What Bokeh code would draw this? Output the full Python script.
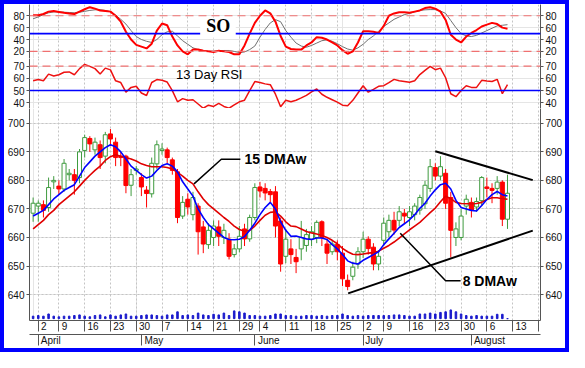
from bokeh.plotting import figure
from bokeh.layouts import column
from bokeh.models import (Range1d, FixedTicker, LinearAxis, Span, Label, BoxAnnotation,
                          ColumnDataSource, Grid)
from bokeh.embed import file_html
from bokeh.resources import INLINE

# ---------------- data (trading-day index 0 = Mar 30) ----------------
open_ = [668.5, 671, 671.5, 670.5, 679.5, 678, 677, 682, 682, 681,
         690.5, 694.7, 690.7, 692.5, 688.5, 696.3, 693.4, 688.5, 688.5, 678.3,
         683.5, 681, 676.6, 675.3, 685.8, 690.5, 690.7, 687.2, 683, 667.5,
         673.4, 668, 671, 663.7, 657.5, 660, 663.7, 660, 659.4, 654,
         656, 663, 659.5, 667, 677.7, 677.2, 676.1, 676, 665.8, 653.4,
         656, 653, 656, 657.2, 659.4, 660, 665.5, 657.7, 655, 657.5,
         654.5, 645, 646.4, 650.7, 655, 659.4, 656.6, 650.7, 659, 662,
         666, 666, 668.5, 667, 668, 669.6, 671.8, 677.2, 684.5, 681.5,
         682.5, 674, 660, 660, 671, 672.3, 670.7, 672.9, 677.7, 677.2,
         677.2, 679.4, 666.4]
high = [674, 673, 673, 681, 681.5, 680, 687.5, 684, 684, 691,
        696, 695.5, 695, 694, 697, 698, 695, 690, 689, 684,
        685, 682.5, 678, 688, 694, 693, 691.5, 688, 684, 674.5,
        675.5, 676, 672, 665.8, 665, 666, 666, 664.8, 661.5, 657.7,
        664, 664.8, 668, 679, 679.5, 679, 677, 678, 667, 663,
        659.4, 656, 665.8, 663, 664, 666, 666, 659.4, 659, 659,
        657, 647, 651.5, 656.6, 662, 660.4, 658, 655.6, 667, 668,
        669, 671, 670, 671, 672, 675, 679.9, 687.5, 686, 688.5,
        684, 676, 665.3, 670, 675, 674, 674, 681.5, 681, 679,
        681.5, 680, 682]
low = [665.5, 665.5, 667, 669, 677, 675, 676, 680, 675, 679,
       688, 690, 689, 684, 686, 692, 685, 685, 675.5, 674.5,
       682, 674.5, 670.5, 674, 684, 689, 686, 682, 665, 666.5,
       668, 666, 654, 654.5, 656, 657, 657, 657.7, 652.3, 653,
       654.8, 657, 658.5, 666, 674, 673, 672, 660, 648, 651,
       650.7, 647.5, 652, 655, 657, 658, 657, 650.7, 653.9, 652,
       643, 641.5, 645, 649, 652.8, 654, 648.5, 648.5, 657, 660,
       661, 664, 665, 664, 666, 668, 670, 676, 680, 680,
       670, 653, 657, 659, 668, 667, 669, 671, 674, 672,
       675, 664, 663]
close = [672, 672, 669.5, 677.5, 680, 677, 686, 682.5, 680, 690,
         695, 692.8, 693.4, 688, 696, 694.5, 688, 688, 678.2, 682,
         684, 677.7, 675.4, 686, 692.5, 691, 688, 683.5, 667, 672.3,
         670.7, 674, 662, 657.7, 662.5, 664, 660.4, 662.5, 653.4, 656,
         660.4, 659.5, 667, 677.5, 676.3, 675.6, 675, 664, 650.7, 659.4,
         654, 651.5, 660, 661, 662, 665.3, 660, 654.5, 657.7, 655,
         645.5, 642.8, 649.6, 655, 659.4, 656.1, 650.7, 653.4, 665, 666,
         662.6, 669, 667.5, 669, 671, 674, 678.3, 684.8, 681.5, 684.8,
         672, 662.5, 663, 667.5, 673.4, 669.6, 672.6, 681, 677.2, 676.5,
         679.4, 666.4, 675.5]
volume = [8, 10, 8, 15, 8, 6, 8, 8, 10, 12,
          8, 6, 10, 12, 6, 12, 8, 12, 15, 8,
          8, 10, 12, 12, 10, 8, 12, 12, 22, 10,
          12, 10, 18, 12, 10, 14, 12, 18, 10, 25,
          22, 18, 10, 10, 8, 8, 10, 15, 15, 10,
          10, 8, 8, 10, 10, 8, 10, 8, 10, 10,
          15, 10, 8, 10, 8, 10, 10, 10, 10, 10,
          12, 12, 10, 8, 8, 15, 15, 18, 15, 20,
          22, 28, 22, 15, 10, 8, 10, 8, 8, 8,
          14, 14, 0]
wma8 = [667.5, 668.5, 669.5, 671.5, 673.5, 675, 676.5, 677.5, 678.5, 681.5,
        684.5, 686.5, 688.5, 690, 691.5, 692.5, 691.8, 690, 687.5, 685,
        683.5, 682, 680.8, 681.5, 683.5, 685.2, 685.8, 685, 683, 679.5,
        677, 674.5, 670, 667, 664.5, 663, 661.5, 660, 659.3, 659.2,
        659.4, 660.3, 662.5, 665, 668, 670.5, 672.3, 670, 665.5, 662.5,
        660.4, 660.5, 660, 659.5, 659.3, 659.8, 659.8, 659.3, 657.5, 656,
        654, 651.8, 651, 650.7, 652, 653, 654, 655, 657.5, 659.5,
        661.5, 663.5, 664.8, 666.2, 668, 670.2, 672, 674.5, 676.7, 678.5,
        679, 677, 673, 670.5, 670, 669.5, 669.3, 671.2, 673.3, 675,
        676.1, 675, 674.5]
wma15 = [663, 664.5, 666, 668, 669.5, 671.5, 673, 674.5, 676, 678,
         680, 681.8, 683.5, 685, 687, 688.3, 689, 688.5, 688, 687.5,
         686.8, 685.8, 685.2, 684.8, 684.8, 684.8, 684.5, 684, 682.8, 681.5,
         680, 678.8, 676, 673.5, 671.5, 670, 668.5, 667, 665.6, 664,
         662.8, 662.2, 662.5, 664, 666, 667.8, 668.8, 669, 667.5, 665.5,
         664, 663.8, 663, 662.1, 661.6, 661.2, 660.7, 660, 659, 657.8,
         656.2, 655, 654.1, 654, 654.2, 654.5, 654.7, 655.2, 656.2, 657.2,
         658.4, 659.8, 661.3, 662.7, 664, 665.3, 667, 668.7, 670.3, 672.5,
         674.5, 673.6, 672.3, 671.9, 671.8, 671.8, 671.9, 672.3, 673.3, 673.9,
         673.9, 673.6, 673.4]
so_k = [81, 81, 83, 87, 88, 86.5, 85, 84, 83, 87,
        91, 94.5, 92, 89, 88, 87, 80, 70, 53, 40,
        31, 28, 25, 33, 55, 67, 64, 45, 30, 20,
        15, 23, 23, 21, 20, 19, 21, 20, 19, 15,
        15, 30, 50, 68, 80, 89, 84, 70, 46, 28,
        24, 23, 23, 30, 35, 44, 43, 40, 35, 30,
        22, 16, 20, 35, 54, 54, 53, 51, 63, 80,
        84, 86, 86, 85, 87, 89, 93, 94.5, 92, 87,
        73, 48, 40, 35, 45, 51, 56, 62, 65, 68,
        66, 60, 58]
so_d = [75, 78, 82, 85, 86.5, 86.5, 86, 85.5, 85, 86,
        87.5, 89, 90, 90.4, 89, 87, 81, 74, 66, 55,
        45, 40, 37, 35, 40, 48, 53, 54, 46, 38,
        32, 26, 23, 21.5, 20.5, 20.5, 21, 21.5, 21.5, 20,
        18, 19, 23, 29, 44, 57, 68, 73.5, 70, 55,
        44, 34, 29, 27, 30, 34, 38, 39.5, 37, 33,
        28, 24, 22, 26, 32, 40, 46, 54, 62, 68,
        74, 78, 82, 84, 86.5, 89, 90, 90.4, 90.4, 88,
        84, 72, 60, 50, 46, 45, 47, 51, 55, 59,
        63, 64, 65]
rsi13 = [58, 59, 58, 63.5, 62, 63, 65, 65.3, 63, 68,
         71.5, 69.8, 68, 63.5, 68.4, 67, 58, 56.6, 48.7, 52.6,
         53.5, 48, 46, 56.6, 59, 58.5, 57, 50, 40.8, 43.4,
         42, 42.5, 39, 35.5, 38, 37, 39.5, 37, 35.5, 38.2,
         40.8, 42.1, 50, 57.4, 56.6, 55.5, 54.8, 47, 36.8, 42.1,
         40.8, 42.1, 44, 46.1, 49, 51.3, 47, 44.5, 42.5, 40.5,
         38, 37.5, 42, 48, 54, 48.7, 51, 53.5, 54, 56.5,
         59.2, 58, 57.4, 56.8, 58, 63.1, 66.5, 69.8, 67.1, 68.4,
         60.5, 47.4, 45, 50, 54, 52.6, 52.6, 58.4, 57.8, 57.4,
         59.2, 47.4, 54.8]
day_index = list(range(len(close)))

week_ticks = [1, 5, 10, 15, 20, 25, 30, 35, 40, 44, 49, 54, 59, 64, 68, 73, 78, 83, 88, 93, 98]
week_labels = ["2", "9", "16", "23", "30", "7", "14", "21", "29", "4", "11", "18", "25",
               "2", "9", "16", "23", "30", "6", "13", ""]
month_ticks = [1, 21, 43, 64, 85]
month_labels = ["April", "May", "June", "July", "August"]

so_ticks = [20, 40, 60, 80]
rsi_ticks = [40, 50, 60, 70]
price_ticks = [640, 650, 660, 670, 680, 690, 700]

# annotation geometry (hand-drawn lines in the original)
upper_trend = ([78.0, 96.9], [690.2, 680.1])
lower_trend = ([61.1, 96.9], [640.4, 662.4])
lead15 = ([31.2, 36.5, 40.2], [678.8, 687.4, 687.4])
lead8 = ([71.2, 80.0, 82.9], [661.5, 644.8, 644.8])

# ---------------- styling helpers ----------------
W = 561
LB, RB = 23, 23
FONT = "Liberation Sans"
xr = Range1d(-0.7, 98.4)
GREEN = "#3f9b3f"
RED = "#ff0000"
NB = "\u00a0"
# Liberation Sans advance widths (em) used to push centred axis labels to the right of the tick
CHAR_W = {"A": 0.667, "J": 0.5, "M": 0.833, "a": 0.556, "e": 0.556, "g": 0.556, "i": 0.222,
          "l": 0.222, "n": 0.556, "p": 0.556, "r": 0.333, "s": 0.5, "t": 0.278, "u": 0.556,
          "y": 0.5}


def right_of_tick(lbl, size=10.0, gap=2.5):
    if not lbl:
        return lbl
    w = sum(CHAR_W.get(ch, 0.556) for ch in lbl) * size
    n = int(round((w + 2 * gap) / (0.278 * size)))
    return NB * n + lbl


def make_fig(h, yr):
    f = figure(width=W, height=h, x_range=xr, y_range=yr, output_backend="svg",
               toolbar_location=None, x_axis_location=None, y_axis_location=None,
               min_border_left=LB, min_border_right=RB, min_border_top=0, min_border_bottom=0,
               outline_line_color=None, background_fill_color="white",
               border_fill_color="white")
    f.add_layout(Grid(dimension=0, ticker=FixedTicker(ticks=week_ticks),
                      grid_line_color="#c4c4c4", grid_line_dash="2 2"))
    return f


def add_y_axes(f, ticks):
    for side in ("left", "right"):
        ax = LinearAxis(ticker=FixedTicker(ticks=ticks))
        ax.major_tick_in = 0
        ax.major_tick_out = 3
        ax.minor_tick_line_color = None
        ax.major_label_text_font = FONT
        ax.major_label_text_font_size = "10px"
        ax.major_label_text_color = "#111111"
        ax.major_label_standoff = 2
        ax.axis_line_color = "#555555"
        ax.major_tick_line_color = "#555555"
        f.add_layout(ax, side)


# ---------------- SO panel ----------------
p_so = make_fig(54, Range1d(8, 99))
add_y_axes(p_so, so_ticks)
for lvl in (80, 20):
    p_so.add_layout(Span(location=lvl, dimension="width", line_color="#f07070",
                         line_dash="8 5", line_width=1.2))
p_so.add_layout(Span(location=50, dimension="width", line_color="#0000ff", line_width=1.6))
p_so.line(day_index, so_d, line_color="#707070", line_width=1)
p_so.line(day_index, so_k, line_color=RED, line_width=2)
p_so.add_layout(BoxAnnotation(left=32.4, right=39.3, bottom=43, top=77,
                              fill_color="white", fill_alpha=1, line_color=None))
p_so.add_layout(Label(x=35.9, y=63, text="SO", text_align="center", text_baseline="middle",
                      text_font="Liberation Serif", text_font_style="bold",
                      text_font_size="18px", text_color="#000000"))

# ---------------- RSI panel ----------------
p_rsi = make_fig(50, Range1d(35.3, 76.3))
add_y_axes(p_rsi, rsi_ticks)
p_rsi.add_layout(Span(location=70, dimension="width", line_color="#f07070",
                      line_dash="8 5", line_width=1.2))
p_rsi.add_layout(Span(location=50, dimension="width", line_color="#0000ff", line_width=1.6))
p_rsi.line(day_index, rsi13, line_color="#ee1111", line_width=1.5)
p_rsi.add_layout(Label(x=27.7, y=62.9, text="13 Day RSI", text_align="left",
                       text_baseline="middle", text_font=FONT, text_font_size="13px",
                       text_color="#000000"))

# ---------------- price panel ----------------
p = make_fig(240, Range1d(630.9, 705.2))
add_y_axes(p, price_ticks)
p.add_layout(Grid(dimension=1, ticker=FixedTicker(ticks=price_ticks),
                  grid_line_color="#c4c4c4", grid_line_dash="2 2"))
p.extra_y_ranges = {"vol": Range1d(-6, 677)}

up = [c >= o for o, c in zip(open_, close)]
src = ColumnDataSource(dict(
    x=day_index, o=open_, h=high, l=low, c=close, v=volume,
    top=[max(o, c) for o, c in zip(open_, close)],
    bot=[min(o, c) for o, c in zip(open_, close)],
    col=[GREEN if u else RED for u in up],
    fill=["#ffffff" if u else RED for u in up],
))

p.vbar(x="x", top="v", bottom=0, width=0.3, source=src, y_range_name="vol",
       fill_color="#1a1acc", line_color="#1a1acc")
p.segment(x0="x", y0="l", x1="x", y1="h", source=src, line_color="col", line_width=1)
p.vbar(x="x", top="top", bottom="bot", width=0.78, source=src,
       fill_color="fill", line_color="col", line_width=1)
p.line(day_index, wma15, line_color="#e00000", line_width=1.6)
p.line(day_index, wma8, line_color="#0000ff", line_width=1.6)

for xs, ys in (upper_trend, lower_trend):
    p.line(xs, ys, line_color="#000000", line_width=2)
for xs, ys in (lead15, lead8):
    p.line(xs, ys, line_color="#000000", line_width=1.5)
p.add_layout(Label(x=41.0, y=687.6, text="15 DMAw", text_align="left", text_baseline="middle",
                   text_font=FONT, text_font_style="bold", text_font_size="14px",
                   text_color="#000000"))
p.add_layout(Label(x=83.3, y=644.8, text="8 DMAw", text_align="left", text_baseline="middle",
                   text_font=FONT, text_font_style="bold", text_font_size="14px",
                   text_color="#000000"))

# date axes (labels sit to the right of each tick, as in the original)
day_axis = LinearAxis(ticker=FixedTicker(ticks=week_ticks),
                      major_label_overrides={t: right_of_tick(l)
                                             for t, l in zip(week_ticks, week_labels)})
month_axis = LinearAxis(ticker=FixedTicker(ticks=month_ticks),
                        major_label_overrides={t: right_of_tick(l)
                                               for t, l in zip(month_ticks, month_labels)})
for ax in (day_axis, month_axis):
    ax.major_tick_in = 0
    ax.major_tick_out = 11
    ax.minor_tick_line_color = None
    ax.major_label_standoff = -11
    ax.major_label_text_font = FONT
    ax.major_label_text_font_size = "10px"
    ax.major_label_text_color = "#111111"
    ax.axis_line_color = "#555555"
    ax.major_tick_line_color = "#555555"
    p.add_layout(ax, "below")

layout = column(p_so, p_rsi, p, spacing=0,
                styles={"border": "4px solid #0000ff"})

open("out.html", "w").write(file_html(layout, INLINE))
